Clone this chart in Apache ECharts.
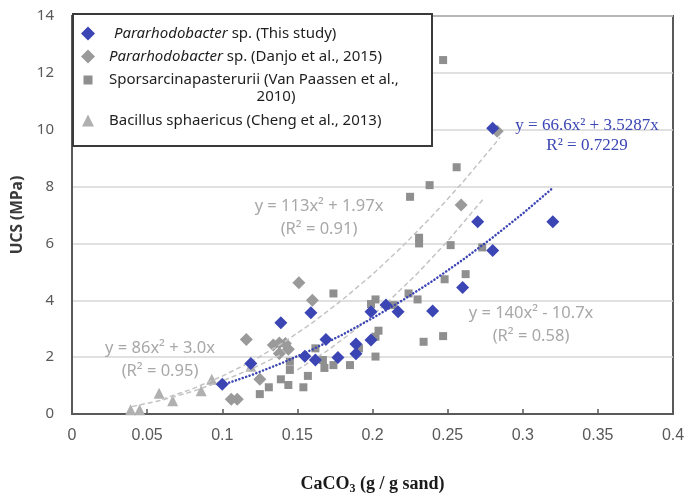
<!DOCTYPE html>
<html><head><meta charset="utf-8">
<script src="https://cdn.jsdelivr.net/npm/echarts@6/dist/echarts.min.js"></script>
<style>html,body{margin:0;padding:0;background:#fff}#c{width:686px;height:496px}</style>
</head><body><div id="c"></div>
<script>
// ---- data ----
const nameThis = 'Pararhodobacter sp. (This study)';
const nameDanjo = 'Pararhodobacter sp. (Danjo et al., 2015)';
const nameVan = 'Sporsarcinapasterurii (Van Paassen et al., 2010)';
const nameCheng = 'Bacillus sphaericus (Cheng et al., 2013)';

const thisStudyPoints = [
  [0.100,1.05],[0.119,1.78],[0.139,3.21],[0.159,3.56],[0.155,2.03],[0.162,1.90],
  [0.169,2.62],[0.177,1.99],[0.189,2.46],[0.189,2.12],[0.199,2.60],[0.199,3.60],
  [0.209,3.83],[0.217,3.60],[0.240,3.62],[0.260,4.45],[0.270,6.76],[0.280,5.75],
  [0.280,10.05],[0.320,6.76]
];
const danjoPoints = [
  [0.106,0.52],[0.110,0.52],[0.116,2.62],[0.125,1.22],[0.134,2.43],[0.138,2.50],
  [0.142,2.48],[0.144,2.28],[0.138,2.13],[0.151,4.62],[0.160,4.00],[0.259,7.35],
  [0.283,9.95]
];
const vanPaassenPoints = [
  [0.125,0.70],[0.131,0.94],[0.139,1.22],[0.144,1.02],[0.145,1.55],[0.145,1.84],
  [0.154,0.94],[0.157,1.34],[0.162,2.31],[0.167,1.90],[0.168,1.62],[0.174,1.72],
  [0.185,1.72],[0.191,2.31],[0.174,4.24],[0.199,3.87],[0.202,4.03],[0.202,2.72],
  [0.204,2.93],[0.202,2.02],[0.214,3.83],[0.224,4.24],[0.230,4.03],[0.234,2.54],
  [0.247,2.74],[0.248,4.74],[0.262,4.92],[0.225,7.64],[0.231,6.20],[0.231,6.00],
  [0.238,8.05],[0.252,5.94],[0.256,8.68],[0.273,5.86],[0.247,12.45]
];
const chengPoints = [
  [0.039,0.15],[0.045,0.15],[0.058,0.73],[0.067,0.47],[0.086,0.82],[0.093,1.22],[0.119,1.68]
];

// trend lines
const fitThisStudy = [
  [0.10,1.02],[0.12,1.38],[0.14,1.80],[0.16,2.27],[0.18,2.79],[0.20,3.37],
  [0.22,4.00],[0.24,4.68],[0.26,5.42],[0.28,6.21],[0.30,7.05],[0.32,7.95]
];
const fitDanjo = [
  [0.06,0.52],[0.08,0.88],[0.10,1.33],[0.12,1.86],[0.14,2.49],[0.16,3.21],[0.18,4.02],
  [0.20,4.91],[0.22,5.90],[0.24,6.98],[0.26,8.15],[0.28,9.41],[0.285,9.74]
];
const fitVanPaassen = [
  [0.15,1.55],[0.17,2.23],[0.19,3.02],[0.21,3.93],[0.23,4.95],[0.25,6.08],[0.274,7.58]
];
const fitCheng = [
  [0.04,0.26],[0.06,0.49],[0.08,0.79],[0.10,1.16],[0.12,1.60],[0.14,2.11]
];

const eqTexts = {
  danjo: ['y = 113x\u00b2 + 1.97x', '(R\u00b2 = 0.91)'],
  cheng: ['y = 86x\u00b2 + 3.0x', '(R\u00b2 = 0.95)'],
  van: ['y = 140x\u00b2 - 10.7x', '(R\u00b2 = 0.58)'],
  thisStudy: ['y = 66.6x\u00b2 + 3.5287x', 'R\u00b2 = 0.7229']
};

// ---- styles ----
const BLUE = '#3b45b3';
const GRAY_D = '#9a9a9a';
const GRAY_S = '#8f8f8f';
const GRAY_T = '#b0b0b0';
const EQ_GRAY = '#a8a8a8';
const SANS = '"Noto Sans", "Open Sans", sans-serif';
const SERIF = '"Liberation Serif", "DejaVu Serif", serif';
const AXIS_C = '#595959';

const chart = echarts.init(document.getElementById('c'), null, {renderer: 'canvas'});

const legText = {fontFamily: SANS, fontSize: 15, color: '#1e1e1e'};
function legendFor(name, icon, size, cx, cy, pad, formatter) {
  return {
    data: [name], icon: icon, itemWidth: size, itemHeight: size,
    left: cx - size / 2, top: cy - size / 2, padding: 0, z: 60,
    selectedMode: false, orient: 'vertical',
    formatter: formatter,
    textStyle: Object.assign({}, legText, {
      padding: [0, 0, 0, pad],
      rich: {
        i: Object.assign({fontStyle: 'italic'}, legText),
        n: Object.assign({}, legText)
      }
    })
  };
}

function eq(x, y, text, color, font) {
  return {type: 'text', z: 5, style: {text: text, x: x, y: y, align: 'center', verticalAlign: 'middle',
    font: font, fill: color}};
}

const option = {
  animation: false,
  backgroundColor: '#ffffff',
  grid: {left: 72, right: 13, top: 16, bottom: 82, show: true, borderColor: AXIS_C, borderWidth: 2,
         outerBoundsMode: 'none', containLabel: false},
  xAxis: {
    type: 'value', min: 0, max: 0.4, interval: 0.05,
    name: '{n|CaCO}{s|3}{n| (g / g sand)}', nameLocation: 'middle', nameGap: 59,
    nameTextStyle: {rich: {
      n: {fontFamily: SERIF, fontWeight: 'bold', fontSize: 18, color: '#1a1a1a', lineHeight: 22},
      s: {fontFamily: SERIF, fontWeight: 'bold', fontSize: 12, color: '#1a1a1a', verticalAlign: 'bottom', lineHeight: 15}
    }},
    axisLine: {show: true, lineStyle: {color: AXIS_C, width: 2}},
    axisTick: {show: true, inside: true, length: 5, lineStyle: {color: AXIS_C, width: 1.5}},
    axisLabel: {fontFamily: '"Liberation Sans", Arial, sans-serif', fontSize: 16, color: AXIS_C, margin: 14,
                showMinLabel: true, showMaxLabel: true, hideOverlap: false},
    splitLine: {show: false}
  },
  yAxis: {
    type: 'value', min: 0, max: 14, interval: 2,
    name: 'UCS (MPa)', nameLocation: 'middle', nameGap: 45, nameRotate: 90,
    nameTextStyle: {fontFamily: SANS, fontWeight: 'bold', fontSize: 15.5, color: '#3a3a3a'},
    axisLine: {show: true, lineStyle: {color: AXIS_C, width: 2}},
    axisTick: {show: false},
    axisLabel: {fontFamily: SANS, fontSize: 15, color: AXIS_C, margin: 18},
    splitLine: {show: true, lineStyle: {color: '#d6d6d6', width: 1.5}}
  },
  legend: [
    legendFor(nameThis, 'diamond', 14, 88, 33, 10, () => '{n| }{i|Pararhodobacter}{n| sp. (This study)}'),
    legendFor(nameDanjo, 'diamond', 14, 88, 56, 9, () => '{i|Pararhodobacter}{n| sp. (Danjo et al., 2015)}'),
    legendFor(nameVan, 'rect', 9, 88, 77, 11.5, () => '{n|Sporsarcinapasterurii (Van Paassen et al.,}'),
    legendFor(nameCheng, 'triangle', 12, 88, 119, 10, () => '{n|Bacillus sphaericus (Cheng et al., 2013)}')
  ],
  graphic: [
    {type: 'rect', z: 50, shape: {x: 73, y: 14, width: 359, height: 132},
     style: {fill: '#ffffff', stroke: '#3a3a3a', lineWidth: 2}},
    {type: 'text', z: 61, style: {text: '2010)', x: 276, y: 97, align: 'center', verticalAlign: 'middle',
      font: '15px ' + SANS, fill: '#1e1e1e'}},
    eq(319, 206, eqTexts.danjo[0], EQ_GRAY, '16.5px ' + SANS),
    eq(319, 229, eqTexts.danjo[1], EQ_GRAY, '16.5px ' + SANS),
    eq(160, 348, eqTexts.cheng[0], EQ_GRAY, '16.5px ' + SANS),
    eq(160, 371, eqTexts.cheng[1], EQ_GRAY, '16.5px ' + SANS),
    eq(531, 313, eqTexts.van[0], EQ_GRAY, '16.5px ' + SANS),
    eq(531, 336, eqTexts.van[1], EQ_GRAY, '16.5px ' + SANS),
    eq(587, 126, eqTexts.thisStudy[0], BLUE, '17px ' + SERIF),
    eq(587, 146, eqTexts.thisStudy[1], BLUE, '17px ' + SERIF)
  ],
  series: [
    {name: nameCheng, type: 'scatter', data: chengPoints, symbol: 'triangle', symbolSize: 11,
     itemStyle: {color: GRAY_T, opacity: 1}},
    {name: nameVan, type: 'scatter', data: vanPaassenPoints, symbol: 'rect', symbolSize: 8,
     itemStyle: {color: GRAY_S, opacity: 1}},
    {name: nameDanjo, type: 'scatter', data: danjoPoints, symbol: 'diamond', symbolSize: 13,
     itemStyle: {color: GRAY_D, opacity: 1}},
    {name: 'fitCheng', type: 'line', data: fitCheng, showSymbol: false, symbol: 'none', silent: true,
     lineStyle: {color: '#c4c4c4', width: 1.5, type: [5, 3]}},
    {name: 'fitDanjo', type: 'line', data: fitDanjo, showSymbol: false, symbol: 'none', silent: true,
     lineStyle: {color: '#c4c4c4', width: 1.5, type: [5, 3]}},
    {name: 'fitVan', type: 'line', data: fitVanPaassen, showSymbol: false, symbol: 'none', silent: true,
     lineStyle: {color: '#c4c4c4', width: 1.5, type: [5, 3]}},
    {name: nameThis, type: 'scatter', data: thisStudyPoints, symbol: 'diamond', symbolSize: 13,
     itemStyle: {color: BLUE, opacity: 1}, z: 3},
    {name: 'fitThis', type: 'line', data: fitThisStudy, showSymbol: false, symbol: 'none', silent: true, z: 4,
     lineStyle: {color: BLUE, width: 2.5, type: [0.1, 3.5], cap: 'round'}}
  ]
};
chart.setOption(option);
</script>
</body></html>
